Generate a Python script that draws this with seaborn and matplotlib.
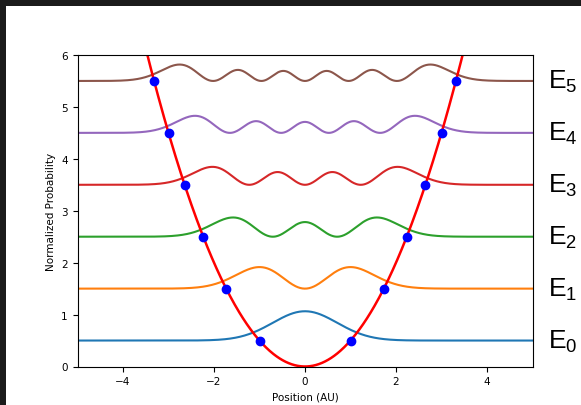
import matplotlib
matplotlib.use("Agg")
import matplotlib.pyplot as plt
import numpy as np
import pandas as pd
import seaborn as sns
from math import factorial
from numpy.polynomial.hermite import hermval
from matplotlib.patches import Rectangle

### Data ###

levels = [0, 1, 2, 3, 4, 5]                       # quantum numbers n
energies = [0.5, 1.5, 2.5, 3.5, 4.5, 5.5]         # E_n = n + 1/2
level_labels = ["$E_0$", "$E_1$", "$E_2$", "$E_3$", "$E_4$", "$E_5$"]
colors = ["C0", "C1", "C2", "C3", "C4", "C5"]
x_ticks = [-4, -2, 0, 2, 4]
y_ticks = [0, 1, 2, 3, 4, 5, 6]

x = np.linspace(-5, 5, 600)

def prob_density(n, x):
    coef = np.zeros(n + 1)
    coef[n] = 1
    norm = 1 / np.sqrt(2**n * factorial(n) * np.sqrt(np.pi))
    psi = norm * hermval(x, coef) * np.exp(-x**2 / 2)
    return psi**2

curves = pd.DataFrame({"x": x})
for n, e in zip(levels, energies):
    curves[f"n{n}"] = prob_density(n, x) + e
curves["V"] = x**2 / 2

turning = pd.DataFrame({
    "x": [s * np.sqrt(2 * e) for e in energies for s in (-1, 1)],
    "y": [e for e in energies for s in (-1, 1)],
})

### Plot ###

plt.rcParams["mathtext.fontset"] = "custom"
plt.rcParams["mathtext.rm"] = "Liberation Sans"
plt.rcParams["mathtext.it"] = "Liberation Sans"
plt.rcParams["mathtext.default"] = "rm"

fig = plt.figure(figsize=(5.81, 4.06), dpi=100)
fig.patch.set_facecolor("#1b1b1b")
fig.add_artist(Rectangle((6 / 581, 0), 1, 399 / 406, transform=fig.transFigure,
                         facecolor="white", edgecolor="none", zorder=0))
ax = fig.add_axes([77.5 / 581, (406 - 367.5) / 406, 455 / 581, 311.5 / 406])

for n, c in zip(levels, colors):
    sns.lineplot(data=curves, x="x", y=f"n{n}", color=c, linewidth=1.5, ax=ax)
sns.lineplot(data=curves, x="x", y="V", color="red", linewidth=1.8, ax=ax)
ax.plot(turning["x"], turning["y"], "o", color="blue", markersize=6, zorder=5)

ax.set_xlim(-5, 5)
ax.set_ylim(0, 6)
ax.set_xticks(x_ticks)
ax.set_yticks(y_ticks)
ax.tick_params(labelsize=7.5, length=3.5)
ax.set_xlabel("Position (AU)", fontsize=7.5)
ax.set_ylabel("Normalized Probability", fontsize=7.5)

for e, lab in zip(energies, level_labels):
    ax.text(1.035, e, lab, transform=ax.get_yaxis_transform(), fontsize=19,
            family="Liberation Sans", va="center", ha="left")

fig.savefig("out.png", dpi=100, facecolor=fig.get_facecolor())
